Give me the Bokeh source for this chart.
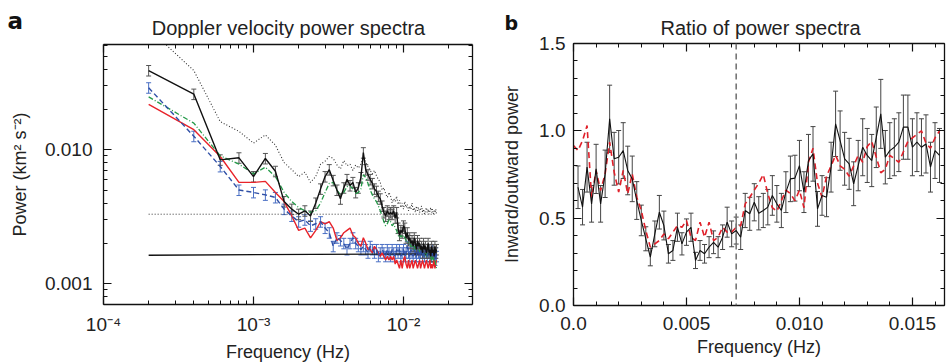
from bokeh.plotting import figure
from bokeh.layouts import row, column
from bokeh.models import (ColumnDataSource, Whisker, TeeHead, FixedTicker, LogAxis,
                          LinearAxis, Span, NumeralTickFormatter, Range1d, Label)
from bokeh.core.properties import value
from bokeh.embed import file_html
from bokeh.resources import INLINE

FONT = "Liberation Sans"
TICK_FS = "19px"
LABEL_FS = "18px"
TITLE_FS = "20px"

# ---------------- panel a : Doppler velocity power spectra ----------------
FREQ_STEP = 2e-4
K_A = list(range(1, 84))
INWARD = [0.039, 0.026, 0.0084, 0.0087, 0.0063, 0.0086, 0.0069, 0.0041, 0.0036, 0.0033,
          0.0035, 0.0032, 0.0040, 0.0051, 0.0063, 0.0071, 0.0059, 0.0050, 0.0043, 0.0052,
          0.0060, 0.0054, 0.0057, 0.0048, 0.0052, 0.0062, 0.0095, 0.0071, 0.0065, 0.0060,
          0.0056, 0.0051, 0.0049, 0.0045, 0.0043, 0.0038, 0.0034, 0.0032, 0.0035, 0.0033,
          0.0034, 0.0033, 0.0035, 0.0031, 0.0034, 0.0026, 0.0023, 0.0025, 0.0024, 0.0027,
          0.0026, 0.0022, 0.0024, 0.0021, 0.0022, 0.0020, 0.0021, 0.0019, 0.0022, 0.0020,
          0.0018, 0.0021, 0.0019, 0.0020, 0.0018, 0.0019, 0.0017, 0.0020, 0.0018, 0.0019,
          0.0017, 0.0018, 0.0020, 0.0017, 0.0018, 0.0016, 0.0019, 0.0017, 0.0018, 0.0016,
          0.0019, 0.0017, 0.0018]
OUTWARD = [0.029, 0.0126, 0.0075, 0.0050, 0.0048, 0.0046, 0.0044, 0.0036, 0.0032, 0.0029,
           0.0030, 0.0027, 0.0028, 0.0029, 0.0026, 0.0024, 0.0019, 0.0022, 0.0021, 0.0020,
           0.0018, 0.0020, 0.0022, 0.0020, 0.0019, 0.0018, 0.0019, 0.0018, 0.0017, 0.0019,
           0.0018, 0.0017, 0.0018, 0.0016, 0.0017, 0.0018, 0.0017, 0.0016, 0.0018, 0.0017,
           0.0016, 0.0018, 0.0017, 0.0016, 0.0018, 0.0017, 0.0018, 0.0016, 0.0017, 0.0018,
           0.0016, 0.0017, 0.0019, 0.0017, 0.0016, 0.0018, 0.0017, 0.0016, 0.0018, 0.0017,
           0.0016, 0.0018, 0.0017, 0.0016, 0.0017, 0.0018, 0.0016, 0.0017, 0.0016, 0.0018,
           0.0017, 0.0016, 0.0017, 0.0018, 0.0016, 0.0017, 0.0016, 0.0018, 0.0016, 0.0017,
           0.0015, 0.0017, 0.0016]
INWARD_MODEL = [0.0248, 0.0158, 0.0090, 0.0078, 0.0066, 0.0074, 0.0063, 0.0048, 0.0041, 0.0037,
                0.0035, 0.0034, 0.0035, 0.0040, 0.0048, 0.0056, 0.0057, 0.0050, 0.0046, 0.0048,
                0.0053, 0.0054, 0.0051, 0.0047, 0.0048, 0.0051, 0.0065, 0.0062, 0.0056, 0.0050,
                0.0046, 0.0043, 0.0041, 0.0038, 0.0035, 0.0032, 0.0029, 0.0027, 0.0028, 0.0030,
                0.0029, 0.0027, 0.0028, 0.0026, 0.0025, 0.0023, 0.0022, 0.0023, 0.0022, 0.0023,
                0.0022, 0.0021, 0.0021, 0.0020, 0.0020, 0.0019, 0.0019, 0.0018, 0.0019, 0.0018,
                0.0018, 0.0018, 0.0017, 0.0018, 0.0017, 0.0017, 0.0017, 0.0017, 0.0016, 0.0017,
                0.0016, 0.0017, 0.0016, 0.0016, 0.0016, 0.0016, 0.0015, 0.0016, 0.0015, 0.0016,
                0.0015, 0.0014, 0.0013]
OUTWARD_MODEL = [0.0218, 0.0141, 0.0089, 0.0057, 0.0057, 0.0058, 0.0048, 0.0041, 0.0032, 0.0025,
                 0.0026, 0.0022, 0.0025, 0.0029, 0.0028, 0.0029, 0.0026, 0.0021, 0.0022, 0.0024,
                 0.0025, 0.0026, 0.0023, 0.0022, 0.0020, 0.0019, 0.0022, 0.0020, 0.0018, 0.0018,
                 0.0017, 0.0019, 0.0018, 0.0017, 0.0016, 0.0017, 0.0016, 0.0015, 0.0016, 0.0015,
                 0.0016, 0.0015, 0.0016, 0.0014, 0.0015, 0.0014, 0.0013, 0.0015, 0.0013, 0.0015,
                 0.0016, 0.0014, 0.0013, 0.0015, 0.0013, 0.0014, 0.0015, 0.0013, 0.0014, 0.0015,
                 0.0014, 0.0013, 0.0014, 0.0015, 0.0013, 0.0014, 0.0015, 0.0014, 0.0013, 0.0014,
                 0.0015, 0.0014, 0.0013, 0.0014, 0.0015, 0.0013, 0.0014, 0.0013, 0.0014, 0.0015,
                 0.0013, 0.0014, 0.0015]
UPPER_LIMIT = [0.080, 0.039, 0.0162, 0.0137, 0.0112, 0.0129, 0.0108, 0.0080, 0.0071, 0.0063,
               0.0068, 0.0057, 0.0063, 0.0078, 0.0082, 0.0089, 0.0086, 0.0077, 0.0072, 0.0083,
               0.0076, 0.0078, 0.0070, 0.0077, 0.0073, 0.0078, 0.0088, 0.0080, 0.0075, 0.0070,
               0.0066, 0.0070, 0.0064, 0.0060, 0.0057, 0.0050, 0.0052, 0.0047, 0.0044, 0.0048,
               0.0045, 0.0040, 0.0043, 0.0041, 0.0045, 0.0039, 0.0042, 0.0037, 0.0040, 0.0036,
               0.0041, 0.0037, 0.0039, 0.0035, 0.0038, 0.0036, 0.0040, 0.0035, 0.0037, 0.0034,
               0.0038, 0.0035, 0.0037, 0.0034, 0.0036, 0.0038, 0.0034, 0.0036, 0.0033, 0.0035,
               0.0037, 0.0034, 0.0036, 0.0033, 0.0035, 0.0037, 0.0034, 0.0036, 0.0033, 0.0035,
               0.0034, 0.0036, 0.0033]
NOISE_DOTTED = [0.0033, 0.0033]
NOISE_SOLID = [0.00163, 0.00167]
REL_ERR_A = 0.09

# ---------------- panel b : ratio of power spectra ----------------
K_B = list(range(1, 82))
RATIO = [0.677, 0.563, 0.792, 0.582, 0.782, 0.582, 0.754, 1.069, 0.840, 0.849,
         0.887, 0.773, 0.725, 0.601, 0.487, 0.382, 0.277, 0.410, 0.534, 0.458,
         0.296, 0.315, 0.448, 0.353, 0.420, 0.448, 0.258, 0.315, 0.296, 0.334,
         0.362, 0.334, 0.391, 0.477, 0.410, 0.429, 0.391, 0.544,
         0.525, 0.591, 0.528, 0.544, 0.563, 0.630, 0.582, 0.544, 0.649, 0.725,
         0.729, 0.801, 0.649, 0.830, 0.868, 0.553, 0.630, 0.620, 0.792, 1.040,
         0.944, 0.840, 0.811, 0.697, 0.801, 0.906, 0.859, 0.830, 0.963, 1.097,
         0.849, 0.887, 0.906, 0.935, 1.021, 1.021, 0.906, 0.935, 0.906, 0.925,
         0.792, 0.887, 0.859]
K_B_MODEL = list(range(0, 82))
RATIO_MODEL = [0.916, 0.887, 0.944, 1.030, 0.620, 0.773, 0.658, 0.754, 0.935, 0.763,
               0.649, 0.773, 0.639, 0.754, 0.620, 0.544, 0.429, 0.334, 0.353, 0.372,
               0.410, 0.382, 0.420, 0.458, 0.448, 0.487, 0.391, 0.372, 0.477, 0.391,
               0.477, 0.372, 0.391, 0.448, 0.420, 0.420, 0.448, 0.458, 0.582,
               0.62, 0.66, 0.70, 0.75, 0.64, 0.56, 0.54, 0.60, 0.66, 0.64,
               0.60, 0.66, 0.56, 0.82, 0.90, 0.70, 0.62, 0.74, 0.80, 0.86,
               0.80, 0.78, 0.74, 0.80, 0.86, 0.82, 0.91, 0.94, 0.85, 0.76,
               0.78, 0.86, 0.84, 0.82, 0.88, 0.94, 0.96, 0.98, 1.00, 0.93,
               0.90, 0.96, 1.00]
REL_ERR_B = 0.18
CUTOFF_FREQ = 0.0072

XTICKS_A = [1e-4, 1e-3, 1e-2]
XLABELS_A = ["10⁻⁴", "10⁻³", "10⁻²"]
YTICKS_A = [0.001, 0.01]
XTICKS_B = [0.0, 0.005, 0.010, 0.015]
YTICKS_B = [0.0, 0.5, 1.0, 1.5]

LOG_MINOR = [m * 10.0 ** e for e in (-5, -4, -3, -2, -1) for m in range(2, 10)]
MINOR_B_X = [i * 0.001 for i in range(0, 17)]
MINOR_B_Y = [i * 0.1 for i in range(0, 16)]


def style_axis(ax, show_labels=True):
    ax.axis_line_color = "#111111"
    ax.axis_line_width = 1.3
    ax.major_tick_in = 8
    ax.major_tick_out = 0
    ax.minor_tick_in = 4
    ax.minor_tick_out = 0
    ax.major_tick_line_color = "#111111"
    ax.minor_tick_line_color = "#111111"
    ax.major_tick_line_width = 1.2
    ax.minor_tick_line_width = 1.0
    ax.major_label_text_font = FONT
    ax.major_label_text_color = "#222222"
    ax.major_label_text_font_size = TICK_FS
    if not show_labels:
        ax.major_label_text_font_size = "1px"
        ax.major_label_text_alpha = 0.0
        ax.major_label_standoff = 0
    ax.axis_label_text_font = FONT
    ax.axis_label_text_font_size = LABEL_FS
    ax.axis_label_text_font_style = "normal"
    ax.axis_label_text_color = "#222222"


def clean(p):
    p.outline_line_color = None
    p.xgrid.visible = False
    p.ygrid.visible = False
    p.background_fill_color = "white"
    p.border_fill_color = "white"


# ===================== header of panel a =====================
hdr = figure(width=480, height=38, x_range=Range1d(0, 480), y_range=Range1d(38, 0),
             x_axis_location=None, y_axis_location=None, output_backend="svg",
             toolbar_location=None, min_border_left=0, min_border_right=0,
             min_border_top=0, min_border_bottom=0)
hdr.outline_line_color = None
hdr.grid.visible = False
hdr.text(x=[7], y=[20], text=["a"], text_font=value("DejaVu Sans"), text_font_style="bold",
         text_font_size=value("23px"), text_color="#111111",
         text_baseline="alphabetic", text_align="left")
hdr.text(x=[288], y=[27], text=["Doppler velocity power spectra"],
         text_font=value(FONT), text_font_size=value(TITLE_FS), text_color="#222222",
         text_baseline="alphabetic", text_align="center")

# ===================== panel a =====================
freq_a = [k * FREQ_STEP for k in K_A]
src_in = ColumnDataSource(dict(x=freq_a, y=INWARD,
                               lo=[v * (1 - REL_ERR_A) for v in INWARD],
                               up=[v * (1 + REL_ERR_A) for v in INWARD]))
src_out = ColumnDataSource(dict(x=freq_a, y=OUTWARD,
                                lo=[v * (1 - REL_ERR_A) for v in OUTWARD],
                                up=[v * (1 + REL_ERR_A) for v in OUTWARD]))

p1 = figure(width=480, height=326, x_axis_type="log", y_axis_type="log",
            x_range=Range1d(1e-4, 0.02884), y_range=Range1d(6.99e-4, 0.0610),
            output_backend="svg", toolbar_location=None,
            min_border_left=103, min_border_right=8, min_border_top=6, min_border_bottom=58)
clean(p1)
p1.xaxis[0].ticker = FixedTicker(ticks=XTICKS_A, minor_ticks=LOG_MINOR)
p1.xaxis[0].major_label_overrides = dict(zip(XTICKS_A, XLABELS_A))
p1.yaxis[0].ticker = FixedTicker(ticks=YTICKS_A, minor_ticks=LOG_MINOR)
p1.yaxis[0].formatter = NumeralTickFormatter(format="0.000")
p1.xaxis[0].axis_label = "Frequency (Hz)"
p1.yaxis[0].axis_label = "Power (km² s⁻²)"
style_axis(p1.xaxis[0])
style_axis(p1.yaxis[0])
p1.xaxis[0].major_label_standoff = 9
p1.xaxis[0].axis_label_standoff = 4
p1.yaxis[0].major_label_standoff = 11
p1.yaxis[0].axis_label_standoff = 12

top_a = LogAxis(ticker=FixedTicker(ticks=XTICKS_A, minor_ticks=LOG_MINOR))
right_a = LogAxis(ticker=FixedTicker(ticks=YTICKS_A, minor_ticks=LOG_MINOR))
style_axis(top_a, False)
style_axis(right_a, False)
p1.add_layout(top_a, "above")
p1.add_layout(right_a, "right")

p1.line([freq_a[0], freq_a[-1]], NOISE_DOTTED, line_color="#333333", line_dash="1 2", line_width=1.0)
p1.line([freq_a[0], freq_a[-1]], NOISE_SOLID, line_color="#111111", line_width=1.3)
p1.line(freq_a, UPPER_LIMIT, line_color="#333333", line_dash="1 2", line_width=1.1)
p1.line(freq_a, OUTWARD_MODEL, line_color="#e8232a", line_width=1.4)
p1.line(freq_a, INWARD_MODEL, line_color="#239a48", line_dash="5 2 1 2", line_width=1.3)
p1.add_layout(Whisker(source=src_out, base="x", lower="lo", upper="up",
                      line_color="#4a6fc4", line_width=1.0,
                      upper_head=TeeHead(size=5, line_color="#4a6fc4", line_width=1.0),
                      lower_head=TeeHead(size=5, line_color="#4a6fc4", line_width=1.0)))
p1.line("x", "y", source=src_out, line_color="#2f4fa6", line_dash="5 3", line_width=1.4)
p1.add_layout(Whisker(source=src_in, base="x", lower="lo", upper="up",
                      line_color="#555555", line_width=1.0,
                      upper_head=TeeHead(size=5, line_color="#555555", line_width=1.0),
                      lower_head=TeeHead(size=5, line_color="#555555", line_width=1.0)))
p1.line("x", "y", source=src_in, line_color="#111111", line_width=1.4)

# ===================== panel b =====================
freq_b = [k * FREQ_STEP for k in K_B]
freq_bm = [k * FREQ_STEP for k in K_B_MODEL]
src_r = ColumnDataSource(dict(x=freq_b, y=RATIO,
                              lo=[v * (1 - REL_ERR_B) for v in RATIO],
                              up=[v * (1 + REL_ERR_B) for v in RATIO]))

p2 = figure(width=466, height=364,
            x_range=Range1d(0.0, 0.01642), y_range=Range1d(0.0, 1.5),
            output_backend="svg", toolbar_location=None,
            min_border_left=93, min_border_right=2, min_border_top=43, min_border_bottom=59)
clean(p2)
p2.xaxis[0].ticker = FixedTicker(ticks=XTICKS_B, minor_ticks=MINOR_B_X)
p2.yaxis[0].ticker = FixedTicker(ticks=YTICKS_B, minor_ticks=MINOR_B_Y)
p2.xaxis[0].formatter = NumeralTickFormatter(format="0.000")
p2.xaxis[0].major_label_overrides = {0.0: "0.0"}
p2.yaxis[0].formatter = NumeralTickFormatter(format="0.0")
p2.xaxis[0].axis_label = "Frequency (Hz)"
p2.yaxis[0].axis_label = "Inward/outward power"
style_axis(p2.xaxis[0])
style_axis(p2.yaxis[0])
p2.xaxis[0].major_label_standoff = 11
p2.xaxis[0].axis_label_standoff = 4
p2.yaxis[0].major_label_standoff = 8
p2.yaxis[0].axis_label_standoff = 14

top_b = LinearAxis(ticker=FixedTicker(ticks=XTICKS_B, minor_ticks=MINOR_B_X))
right_b = LinearAxis(ticker=FixedTicker(ticks=YTICKS_B, minor_ticks=MINOR_B_Y))
style_axis(top_b, False)
style_axis(right_b, False)
p2.add_layout(top_b, "above")
p2.add_layout(right_b, "right")

p2.add_layout(Label(x=280, y=27, x_units="canvas", y_units="canvas",
                    text="Ratio of power spectra", text_font=FONT, text_font_size=TITLE_FS,
                    text_color="#222222", text_align="center", text_baseline="alphabetic"),
              "above")
p2.add_layout(Label(x=24, y=22, x_units="canvas", y_units="canvas",
                    text="b", text_font="DejaVu Sans", text_font_style="bold",
                    text_font_size="19px", text_color="#111111",
                    text_align="left", text_baseline="alphabetic"),
              "left")

p2.add_layout(Span(location=CUTOFF_FREQ, dimension="height", line_color="#777777",
                   line_dash="6 4", line_width=1.6))
p2.line(freq_bm, RATIO_MODEL, line_color="#e0202a", line_dash="6 4", line_width=1.6)
p2.add_layout(Whisker(source=src_r, base="x", lower="lo", upper="up",
                      line_color="#444444", line_width=1.0,
                      upper_head=TeeHead(size=5, line_color="#444444", line_width=1.0),
                      lower_head=TeeHead(size=5, line_color="#444444", line_width=1.0)))
p2.line("x", "y", source=src_r, line_color="#111111", line_width=1.1)

layout = row(column(hdr, row(p1, spacing=0), spacing=0), p2, spacing=0)
open("out.html", "w").write(file_html(layout, INLINE))
